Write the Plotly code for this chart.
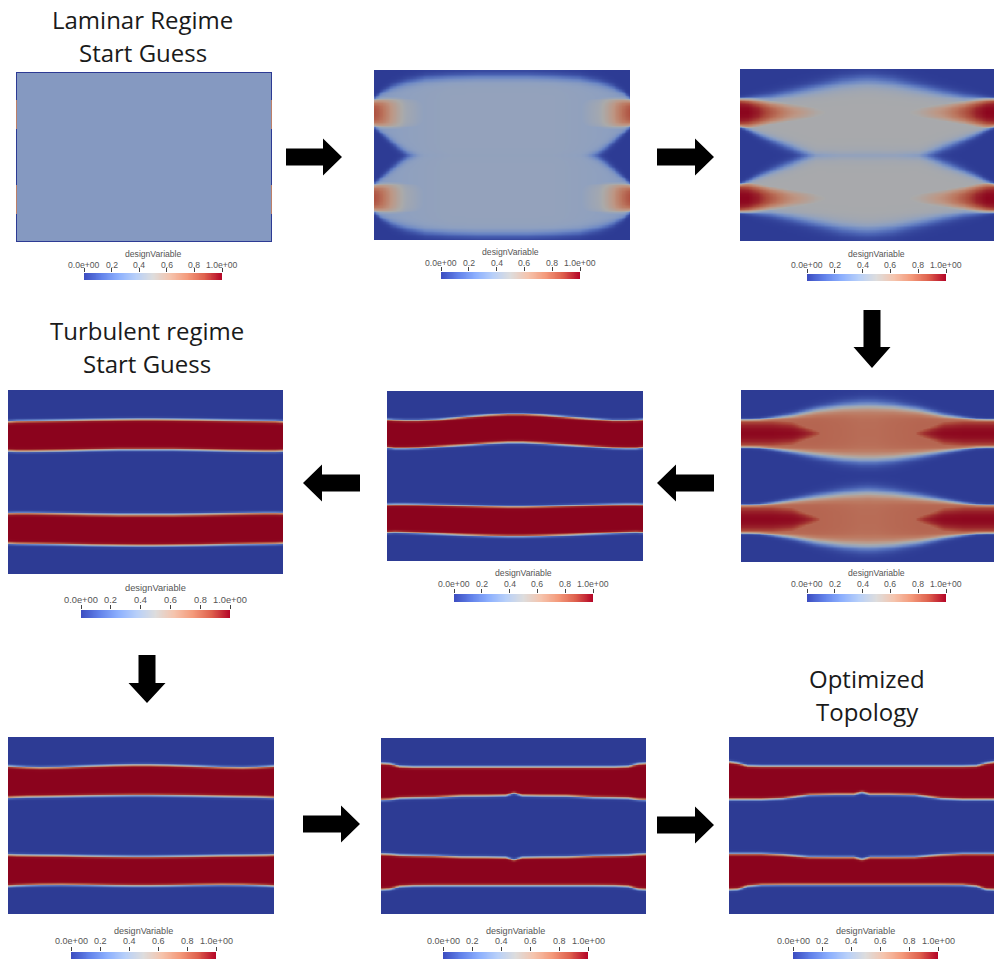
import numpy as np
import plotly.graph_objects as go

W, H = 994, 959

# ---------------- data (fractions of channel height from the top, at x stations) ----------------
XS = [0.00, 0.03, 0.07, 0.12, 0.20, 0.30, 0.40, 0.47, 0.50, 0.53, 0.60, 0.70, 0.80, 0.88, 0.93, 0.97, 1.00]

TICK_VALUES = [0.0, 0.2, 0.4, 0.6, 0.8, 1.0]
TICK_LABELS = ["0.0e+00", "0.2", "0.4", "0.6", "0.8", "1.0e+00"]
BAR_TITLE = "designVariable"

INLET_TOP = [0.165, 0.333]
INLET_BOTTOM = [0.667, 0.835]
JET_CENTERS = [0.25, 0.75]

# panel 1: laminar start guess (uniform)
P1_LEVEL = 0.34
P1_INLET_LEVEL = 0.72

# panel 2
P2_B1_TOP = [0.165, 0.13, 0.10, 0.075, 0.05, 0.04, 0.035, 0.035, 0.035, 0.035, 0.035, 0.04, 0.05, 0.075, 0.10, 0.13, 0.165]
P2_B1_BOT = [0.333, 0.37, 0.42, 0.48, 0.55, 0.56, 0.56, 0.56, 0.56, 0.56, 0.56, 0.56, 0.55, 0.48, 0.42, 0.37, 0.333]
P2_B2_TOP = [0.667, 0.63, 0.58, 0.52, 0.45, 0.44, 0.44, 0.44, 0.44, 0.44, 0.44, 0.44, 0.45, 0.52, 0.58, 0.63, 0.667]
P2_B2_BOT = [0.835, 0.87, 0.90, 0.925, 0.95, 0.96, 0.965, 0.965, 0.965, 0.965, 0.965, 0.96, 0.95, 0.925, 0.90, 0.87, 0.835]
P2_LEVEL = [0.36, 0.36, 0.37, 0.38, 0.39, 0.40, 0.40, 0.40, 0.40, 0.40, 0.40, 0.40, 0.39, 0.38, 0.37, 0.36, 0.36]
P2_EDGE = [0.012, 0.018, 0.024, 0.028, 0.03, 0.03, 0.03, 0.03, 0.03, 0.03, 0.03, 0.03, 0.03, 0.028, 0.024, 0.018, 0.012]
P2_JET = [0.86, 0.78, 0.62, 0.47, 0.38, 0.30, 0.30, 0.30, 0.30, 0.30, 0.30, 0.30, 0.38, 0.47, 0.62, 0.78, 0.86]
P2_JET_HALF = [0.085, 0.09, 0.10, 0.11, 0.12, 0.12, 0.12, 0.12, 0.12, 0.12, 0.12, 0.12, 0.12, 0.11, 0.10, 0.09, 0.085]
P2_JET_EDGE = 0.03

# panel 3
P3_B1_TOP = [0.17, 0.168, 0.165, 0.16, 0.14, 0.11, 0.08, 0.068, 0.066, 0.068, 0.08, 0.11, 0.14, 0.16, 0.165, 0.168, 0.17]
P3_B1_BOT = [0.334, 0.35, 0.375, 0.405, 0.45, 0.515, 0.53, 0.53, 0.53, 0.53, 0.53, 0.515, 0.45, 0.405, 0.375, 0.35, 0.334]
P3_B2_TOP = [0.666, 0.65, 0.625, 0.595, 0.55, 0.485, 0.47, 0.47, 0.47, 0.47, 0.47, 0.485, 0.55, 0.595, 0.625, 0.65, 0.666]
P3_B2_BOT = [0.83, 0.832, 0.835, 0.84, 0.86, 0.89, 0.92, 0.932, 0.934, 0.932, 0.92, 0.89, 0.86, 0.84, 0.835, 0.832, 0.83]
P3_LEVEL = [0.49] * 17
P3_EDGE = [0.01, 0.014, 0.02, 0.026, 0.032, 0.038, 0.044, 0.045, 0.045, 0.045, 0.044, 0.038, 0.032, 0.026, 0.02, 0.014, 0.01]
P3_JET = [1.0, 1.0, 0.96, 0.85, 0.68, 0.54, 0.45, 0.45, 0.45, 0.45, 0.45, 0.54, 0.68, 0.85, 0.96, 1.0, 1.0]
P3_JET_HALF = [0.1, 0.095, 0.085, 0.075, 0.068, 0.065, 0.065, 0.065, 0.065, 0.065, 0.065, 0.065, 0.068, 0.075, 0.085, 0.095, 0.1]
P3_JET_EDGE = 0.035

# panel 4: turbulent start guess
P4_B1_TOP = [0.17, 0.167, 0.166, 0.165, 0.163, 0.16, 0.158, 0.157, 0.157, 0.157, 0.158, 0.16, 0.163, 0.165, 0.166, 0.167, 0.17]
P4_B1_BOT = [0.328, 0.33, 0.33, 0.329, 0.327, 0.323, 0.32, 0.32, 0.32, 0.32, 0.32, 0.323, 0.327, 0.329, 0.33, 0.33, 0.328]
P4_B2_TOP = [0.668, 0.667, 0.667, 0.668, 0.67, 0.673, 0.675, 0.675, 0.675, 0.675, 0.675, 0.673, 0.67, 0.668, 0.667, 0.667, 0.668]
P4_B2_BOT = [0.83, 0.832, 0.833, 0.834, 0.836, 0.84, 0.842, 0.843, 0.843, 0.843, 0.842, 0.84, 0.836, 0.834, 0.833, 0.832, 0.83]

# panel 5
P5_B1_TOP = [0.165, 0.168, 0.17, 0.17, 0.165, 0.15, 0.138, 0.133, 0.133, 0.133, 0.138, 0.15, 0.162, 0.17, 0.17, 0.168, 0.165]
P5_B1_BOT = [0.33, 0.335, 0.335, 0.333, 0.325, 0.315, 0.305, 0.30, 0.30, 0.30, 0.305, 0.315, 0.325, 0.333, 0.335, 0.335, 0.33]
P5_B2_TOP = [0.665, 0.664, 0.664, 0.665, 0.668, 0.672, 0.676, 0.678, 0.678, 0.678, 0.676, 0.672, 0.668, 0.665, 0.664, 0.664, 0.665]
P5_B2_BOT = [0.83, 0.828, 0.83, 0.833, 0.838, 0.845, 0.85, 0.852, 0.852, 0.852, 0.85, 0.845, 0.838, 0.833, 0.83, 0.828, 0.83]

# panel 6
P6_B1_TOP = [0.17, 0.17, 0.168, 0.16, 0.145, 0.115, 0.095, 0.088, 0.087, 0.088, 0.095, 0.115, 0.145, 0.16, 0.168, 0.17, 0.17]
P6_B1_BOT = [0.33, 0.33, 0.332, 0.34, 0.355, 0.375, 0.393, 0.40, 0.40, 0.40, 0.393, 0.375, 0.355, 0.34, 0.332, 0.33, 0.33]
P6_B2_TOP = [0.666, 0.666, 0.664, 0.656, 0.64, 0.62, 0.602, 0.594, 0.592, 0.594, 0.602, 0.62, 0.64, 0.656, 0.664, 0.666, 0.666]
P6_B2_BOT = [0.83, 0.83, 0.832, 0.84, 0.855, 0.88, 0.898, 0.905, 0.906, 0.905, 0.898, 0.88, 0.855, 0.84, 0.832, 0.83, 0.83]
P6_LEVEL = [0.8, 0.8, 0.8, 0.8, 0.8, 0.8, 0.79, 0.78, 0.78, 0.78, 0.79, 0.8, 0.8, 0.8, 0.8, 0.8, 0.8]
P6_EDGE = [0.007, 0.007, 0.008, 0.01, 0.015, 0.024, 0.032, 0.036, 0.036, 0.036, 0.032, 0.024, 0.015, 0.01, 0.008, 0.007, 0.007]
P6_JET = [1.0] * 17
P6_JET_HALF = [0.11, 0.11, 0.11, 0.11, 0.1, 0.045, -0.04, -0.07, -0.07, -0.07, -0.04, 0.045, 0.1, 0.11, 0.11, 0.11, 0.11]
P6_JET_EDGE = 0.045

# panel 7
P7_B1_TOP = [0.162, 0.165, 0.168, 0.17, 0.168, 0.162, 0.157, 0.155, 0.155, 0.155, 0.157, 0.162, 0.168, 0.17, 0.168, 0.165, 0.162]
P7_B1_BOT = [0.34, 0.338, 0.336, 0.335, 0.333, 0.33, 0.328, 0.327, 0.327, 0.327, 0.328, 0.33, 0.333, 0.335, 0.336, 0.338, 0.34]
P7_B2_TOP = [0.662, 0.664, 0.665, 0.666, 0.667, 0.67, 0.672, 0.673, 0.673, 0.673, 0.672, 0.67, 0.667, 0.666, 0.665, 0.664, 0.662]
P7_B2_BOT = [0.84, 0.837, 0.835, 0.833, 0.832, 0.834, 0.837, 0.838, 0.838, 0.838, 0.837, 0.834, 0.832, 0.833, 0.835, 0.837, 0.84]

# panel 8
P8_B1_TOP = [0.14, 0.143, 0.158, 0.161, 0.161, 0.161, 0.161, 0.161, 0.161, 0.161, 0.161, 0.161, 0.161, 0.161, 0.158, 0.143, 0.14]
P8_B1_BOT = [0.35, 0.348, 0.34, 0.338, 0.336, 0.328, 0.327, 0.325, 0.31, 0.325, 0.327, 0.328, 0.336, 0.338, 0.34, 0.348, 0.35]
P8_B2_TOP = [0.655, 0.657, 0.662, 0.664, 0.666, 0.672, 0.673, 0.675, 0.69, 0.675, 0.673, 0.672, 0.666, 0.664, 0.662, 0.657, 0.655]
P8_B2_BOT = [0.86, 0.857, 0.842, 0.838, 0.837, 0.837, 0.837, 0.837, 0.837, 0.837, 0.837, 0.837, 0.837, 0.838, 0.842, 0.857, 0.86]

# panel 9: optimized topology
P9_B1_TOP = [0.138, 0.145, 0.16, 0.162, 0.162, 0.162, 0.162, 0.162, 0.162, 0.162, 0.162, 0.162, 0.162, 0.162, 0.16, 0.145, 0.138]
P9_B1_BOT = [0.35, 0.35, 0.35, 0.35, 0.345, 0.325, 0.322, 0.322, 0.31, 0.322, 0.322, 0.325, 0.345, 0.35, 0.35, 0.35, 0.35]
P9_B2_TOP = [0.657, 0.657, 0.657, 0.657, 0.662, 0.675, 0.676, 0.676, 0.688, 0.676, 0.676, 0.675, 0.662, 0.657, 0.657, 0.657, 0.657]
P9_B2_BOT = [0.86, 0.858, 0.84, 0.833, 0.832, 0.832, 0.832, 0.832, 0.832, 0.832, 0.832, 0.832, 0.832, 0.833, 0.84, 0.858, 0.86]

SOLID_LEVEL = 1.0
SOLID_EDGE = 0.007

# ---------------- colour maps ----------------
COOL_WARM = [(0.0, (59, 76, 192)), (0.125, (98, 130, 234)), (0.25, (141, 176, 254)),
             (0.375, (184, 208, 249)), (0.5, (221, 221, 221)), (0.625, (245, 196, 173)),
             (0.75, (244, 154, 123)), (0.875, (222, 96, 77)), (1.0, (180, 4, 38))]
SHADE = 0.77
CS_BAR = [[p, "rgb(%d,%d,%d)" % c] for p, c in COOL_WARM]
CS_LIT = [[p, "rgb(%d,%d,%d)" % tuple(int(round(v * SHADE)) for v in c)] for p, c in COOL_WARM]


def S(t):
    return 0.5 * (1.0 + np.tanh(t))


NX, NY = 180, 120
XC = (np.arange(NX) + 0.5) / NX
YC = (np.arange(NY) + 0.5) / NY


def field(t1, b1, t2, b2, level, edge, jet=0.0, jethalf=0.0, jetedge=0.03):
    def f(a):
        return np.interp(XC, XS, np.broadcast_to(np.asarray(a, float), (len(XS),)))
    T1, B1, T2, B2, L, E, J, JH = map(f, (t1, b1, t2, b2, level, edge, jet, jethalf))
    Y = YC[:, None]
    band1 = S((Y - T1) / E) * S((B1 - Y) / E)
    band2 = S((Y - T2) / E) * S((B2 - Y) / E)
    j1 = J * S((JH - np.abs(Y - JET_CENTERS[0])) / jetedge)
    j2 = J * S((JH - np.abs(Y - JET_CENTERS[1])) / jetedge)
    z = np.maximum(band1 * np.maximum(L, j1), band2 * np.maximum(L, j2))
    return np.round(z, 3)


def field_start():
    nx, ny = 256, 170
    z = np.full((ny, nx), P1_LEVEL)
    yc = (np.arange(ny) + 0.5) / ny
    wall = np.where(((yc > INLET_TOP[0]) & (yc < INLET_TOP[1])) |
                    ((yc > INLET_BOTTOM[0]) & (yc < INLET_BOTTOM[1])), P1_INLET_LEVEL, 0.0)
    z[:, 0] = wall
    z[:, -1] = wall
    z[0, :] = 0.0
    z[-1, :] = 0.0
    return (np.arange(nx) + 0.5) / nx, yc, z


FIELDS = [
    field_start(),
    (XC, YC, field(P2_B1_TOP, P2_B1_BOT, P2_B2_TOP, P2_B2_BOT, P2_LEVEL, P2_EDGE, P2_JET, P2_JET_HALF, P2_JET_EDGE)),
    (XC, YC, field(P3_B1_TOP, P3_B1_BOT, P3_B2_TOP, P3_B2_BOT, P3_LEVEL, P3_EDGE, P3_JET, P3_JET_HALF, P3_JET_EDGE)),
    (XC, YC, field(P4_B1_TOP, P4_B1_BOT, P4_B2_TOP, P4_B2_BOT, SOLID_LEVEL, SOLID_EDGE)),
    (XC, YC, field(P5_B1_TOP, P5_B1_BOT, P5_B2_TOP, P5_B2_BOT, SOLID_LEVEL, SOLID_EDGE)),
    (XC, YC, field(P6_B1_TOP, P6_B1_BOT, P6_B2_TOP, P6_B2_BOT, P6_LEVEL, P6_EDGE, P6_JET, P6_JET_HALF, P6_JET_EDGE)),
    (XC, YC, field(P7_B1_TOP, P7_B1_BOT, P7_B2_TOP, P7_B2_BOT, SOLID_LEVEL, SOLID_EDGE)),
    (XC, YC, field(P8_B1_TOP, P8_B1_BOT, P8_B2_TOP, P8_B2_BOT, SOLID_LEVEL, SOLID_EDGE)),
    (XC, YC, field(P9_B1_TOP, P9_B1_BOT, P9_B2_TOP, P9_B2_BOT, SOLID_LEVEL, SOLID_EDGE)),
]

# ---------------- layout (pixel boxes) ----------------
PANEL_BOX = [(16, 272, 72, 242), (374, 630, 70, 240), (740, 994, 69, 241),
             (8, 283, 390, 574), (387, 643, 391, 561), (741, 994, 390, 562),
             (8, 274, 737, 914), (381, 646, 738, 914), (729, 994, 737, 914)]
# bar: x0, x1, bar top, bar bottom, tick-label centre y, title centre y
BAR_BOX = [(84, 222, 273, 280, 265, 254), (441, 580, 272, 279, 263, 252), (807, 946, 274, 281, 265, 254),
           (81, 230, 610, 618, 600, 588), (454, 593, 594, 602, 584, 573), (807, 946, 594, 602, 584, 573),
           (71, 216, 952, 960, 941, 931), (443, 588, 952, 960, 941, 931), (793, 938, 952, 960, 941, 931)]


def dx(a, b):
    return [a / W, b / W]


def dy(a, b):
    return [max(0.0, 1 - b / H), min(1.0, 1 - a / H)]


fig = go.Figure()
layout = {}
annotations = []
BAR_X = (np.arange(300) + 0.5) / 300
LABEL_FONT = "Liberation Sans"

for i, ((x, y, z), pb, bb) in enumerate(zip(FIELDS, PANEL_BOX, BAR_BOX)):
    k = i + 1
    ax = "" if k == 1 else str(k)
    fig.add_trace(go.Heatmap(x=x, y=y, z=z, zmin=0, zmax=1, colorscale=CS_LIT, showscale=False,
                             zsmooth=False if k == 1 else "best", hoverinfo="skip",
                             xaxis="x" + ax, yaxis="y" + ax))
    layout["xaxis" + ax] = dict(domain=dx(pb[0], pb[1]), range=[0, 1], visible=False,
                                anchor="y" + ax, automargin=False)
    layout["yaxis" + ax] = dict(domain=dy(pb[2], pb[3]), range=[1, 0], visible=False,
                                anchor="x" + ax, automargin=False)

    kb = k + 9
    fs = 9.3 * (bb[1] - bb[0]) / 149.0
    fig.add_trace(go.Heatmap(x=BAR_X, y=[0.5], z=[BAR_X.tolist()], zmin=0, zmax=1, colorscale=CS_BAR,
                             showscale=False, hoverinfo="skip", xaxis="x%d" % kb, yaxis="y%d" % kb))
    layout["xaxis%d" % kb] = dict(domain=dx(bb[0], bb[1]), range=[0, 1], side="top", anchor="y%d" % kb,
                                  tickmode="array", tickvals=TICK_VALUES, showticklabels=False,
                                  ticks="outside", ticklen=4, tickwidth=1, tickcolor="#444",
                                  showgrid=False, zeroline=False, showline=False, fixedrange=True,
                                  automargin=False)
    layout["yaxis%d" % kb] = dict(domain=dy(bb[2], bb[3]), range=[0, 1], visible=False,
                                  anchor="x%d" % kb, automargin=False)
    for tv, tl in zip(TICK_VALUES, TICK_LABELS):
        annotations.append(dict(text=tl, x=(bb[0] + tv * (bb[1] - bb[0])) / W, y=1 - bb[4] / H,
                                xref="paper", yref="paper", xanchor="center", yanchor="middle",
                                showarrow=False, font=dict(family=LABEL_FONT, size=fs, color="#555")))
    annotations.append(dict(text=BAR_TITLE, x=(bb[0] + bb[1]) / 2 / W, y=1 - bb[5] / H, xref="paper",
                            yref="paper", xanchor="center", yanchor="middle", showarrow=False,
                            font=dict(family=LABEL_FONT, size=fs, color="#555")))

# titles
TITLES = [("Laminar Regime", 142, 20), ("Start Guess", 143, 52),
          ("Turbulent regime", 147, 330), ("Start Guess", 147, 363),
          ("Optimized", 867, 678), ("Topology", 867, 711)]
for t, cx, cy in TITLES:
    annotations.append(dict(text=t, x=cx / W, y=1 - cy / H, xref="paper", yref="paper",
                            xanchor="center", yanchor="middle", showarrow=False,
                            font=dict(family="Open Sans", size=24, color="#1a1a1a")))


# block arrows (decoration)
def P(x, y):
    return "%.5f,%.5f" % (x / W, 1 - y / H)


def arrow_h(xs, xe, yc, shaft=17, head=37, hl=19):
    s = 1 if xe > xs else -1
    xb = xe - s * hl
    pts = [(xs, yc - shaft / 2), (xb, yc - shaft / 2), (xb, yc - head / 2), (xe, yc),
           (xb, yc + head / 2), (xb, yc + shaft / 2), (xs, yc + shaft / 2)]
    return "M" + " L".join(P(a, b) for a, b in pts) + " Z"


def arrow_v(xc, ys, ye, shaft=17, head=37, hl=21):
    yb = ye - hl
    pts = [(xc - shaft / 2, ys), (xc - shaft / 2, yb), (xc - head / 2, yb), (xc, ye),
           (xc + head / 2, yb), (xc + shaft / 2, yb), (xc + shaft / 2, ys)]
    return "M" + " L".join(P(a, b) for a, b in pts) + " Z"


paths = [arrow_h(286, 342, 157), arrow_h(657, 714, 157), arrow_v(872, 310, 368),
         arrow_h(714, 657, 483), arrow_h(360, 303, 483), arrow_v(147, 655, 703, hl=20),
         arrow_h(303, 360, 824), arrow_h(657, 714, 825)]
shapes = [dict(type="path", path=p, xref="paper", yref="paper", fillcolor="black",
               line=dict(width=0)) for p in paths]

fig.update_layout(width=W, height=H, margin=dict(l=0, r=0, t=0, b=0, autoexpand=False),
                  paper_bgcolor="white", plot_bgcolor="white", showlegend=False,
                  annotations=annotations, shapes=shapes, **layout)
fig.write_html("out.html")
